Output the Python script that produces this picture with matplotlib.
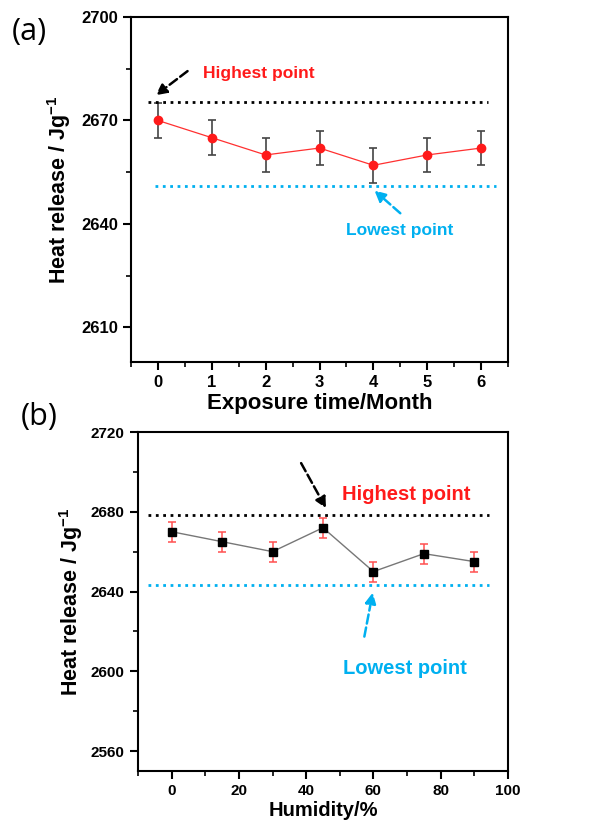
import numpy as np
import matplotlib
matplotlib.use("Agg")
import matplotlib.pyplot as plt
from matplotlib.ticker import MultipleLocator

plt.rcParams['font.family'] = ['Liberation Sans', 'DejaVu Sans']
plt.rcParams['font.weight'] = 'bold'
plt.rcParams['mathtext.fontset'] = 'custom'
plt.rcParams['mathtext.rm'] = 'Liberation Sans:bold'
plt.rcParams['mathtext.default'] = 'rm'

# panel (a): exposure time
months = [0, 1, 2, 3, 4, 5, 6]
heat_a = [2670, 2665, 2660, 2662, 2657, 2660, 2662]
err_a = [5, 5, 5, 5, 5, 5, 5]
high_a = 2675.4
low_a = 2651.1

# panel (b): humidity
humidity = [0, 15, 30, 45, 60, 75, 90]
heat_b = [2670, 2665, 2660, 2672, 2650, 2659, 2655]
err_b = [5, 5, 5, 5, 5, 5, 5]
high_b = 2678.2
low_b = 2643.3

RED = '#ff1a1a'
CYAN = '#00b0f0'

fig = plt.figure(figsize=(5.93, 8.30), dpi=100)
ax1 = fig.add_axes([0.2209, 0.5639, 0.6358, 0.4157])
ax2 = fig.add_axes([0.2327, 0.0711, 0.6239, 0.4084])


def style_axes(ax, fs):
    for s in ax.spines.values():
        s.set_linewidth(1.5)
    ax.tick_params(which='major', direction='out', length=6, width=1.5,
                   labelsize=fs, top=False, right=False)
    ax.tick_params(which='minor', direction='out', length=3.5, width=1.2,
                   top=False, right=False)


# ---- (a)
ax1.errorbar(months, heat_a, yerr=err_a, color='#ff3030', lw=0.9, marker='o',
             ms=6, mfc=RED, mec=RED, ecolor='#444444', elinewidth=1.2,
             capsize=3, capthick=1.2)
ax1.plot([-0.18, 6.13], [high_a, high_a], ls=':', color='k', lw=2)
ax1.plot([-0.06, 6.27], [low_a, low_a], ls=':', color=CYAN, lw=2)
ax1.set_xlim(-0.5, 6.5)
ax1.set_ylim(2600, 2700)
ax1.set_yticks([2610, 2640, 2670, 2700])
ax1.yaxis.set_minor_locator(MultipleLocator(15))
ax1.xaxis.set_minor_locator(MultipleLocator(0.5))
ax1.set_xticks(months)
style_axes(ax1, 12)
ax1.set_xlabel('Exposure time/Month', fontsize=16, fontweight='bold', labelpad=2)
ax1.set_ylabel(r'Heat release / Jg$^{-1}$', fontsize=15.5, fontweight='bold', labelpad=6)
ax1.text(0.83, 2683.7, 'Highest point', color=RED, fontsize=12.5,
         fontweight='bold', va='center', ha='left')
ax1.text(3.5, 2638, 'Lowest point', color=CYAN, fontsize=12.5,
         fontweight='bold', va='center', ha='left')
ax1.annotate('', xy=(-0.04, 2677.3), xytext=(0.55, 2684.3),
             arrowprops=dict(arrowstyle='-|>', ls='--', lw=1.8, color='k',
                             mutation_scale=16, shrinkA=0, shrinkB=0))
ax1.annotate('', xy=(4.02, 2649.7), xytext=(4.5, 2643.1),
             arrowprops=dict(arrowstyle='-|>', ls='--', lw=1.8, color=CYAN,
                             mutation_scale=16, shrinkA=0, shrinkB=0))

# ---- (b)
ax2.errorbar(humidity, heat_b, yerr=err_b, color='#777777', lw=1.0, marker='s',
             ms=6, mfc='k', mec='k', ecolor='#ff5050', elinewidth=1.1,
             capsize=3, capthick=1.1)
ax2.plot([-7.1, 94.5], [high_b, high_b], ls=':', color='k', lw=2)
ax2.plot([-7.1, 94.5], [low_b, low_b], ls=':', color=CYAN, lw=2)
ax2.set_xlim(-10, 100)
ax2.set_ylim(2550, 2720)
ax2.set_yticks([2560, 2600, 2640, 2680, 2720])
ax2.yaxis.set_minor_locator(MultipleLocator(20))
ax2.set_xticks([0, 20, 40, 60, 80, 100])
ax2.xaxis.set_minor_locator(MultipleLocator(10))
style_axes(ax2, 11)
ax2.set_xlabel('Humidity/%', fontsize=14.5, fontweight='bold', labelpad=2)
ax2.set_ylabel(r'Heat release / Jg$^{-1}$', fontsize=15.5, fontweight='bold', labelpad=4)
ax2.text(50.6, 2688.5, 'Highest point', color=RED, fontsize=14.5,
         fontweight='bold', va='center', ha='left')
ax2.text(50.9, 2601.5, 'Lowest point', color=CYAN, fontsize=14.5,
         fontweight='bold', va='center', ha='left')
ax2.annotate('', xy=(45.9, 2681.8), xytext=(38.5, 2704.4),
             arrowprops=dict(arrowstyle='-|>', ls='--', lw=1.8, color='k',
                             mutation_scale=16, shrinkA=0, shrinkB=0))
ax2.annotate('', xy=(59.8, 2639.5), xytext=(57.3, 2617.4),
             arrowprops=dict(arrowstyle='-|>', ls='--', lw=1.8, color=CYAN,
                             mutation_scale=16, shrinkA=0, shrinkB=0))

# panel letters
fig.text(29 / 593, 1 - 32 / 830, '(a)', fontsize=22, fontweight='normal',
         ha='center', va='center', family=['Open Sans', 'DejaVu Sans'])
fig.text(39 / 593, 1 - 417 / 830, '(b)', fontsize=22, fontweight='normal',
         ha='center', va='center', family=['Open Sans', 'DejaVu Sans'])

fig.savefig('out.png', dpi=100)
